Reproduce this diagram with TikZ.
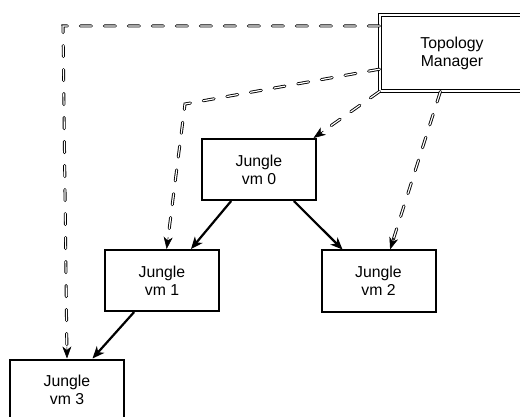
\documentclass[tikz,border=0pt]{standalone}
\usepackage{fontspec}
\setmainfont{Liberation Sans}
\usetikzlibrary{arrows.meta,calc}
\begin{document}
\begin{tikzpicture}[x=1pt,y=-1pt,
  boxtext/.style={align=center, inner sep=0pt, font=\fontsize{15.8}{18}\selectfont},
  vmbox/.style={boxtext, draw, line width=2pt, minimum width=114pt, minimum height=61pt},
  tmbox/.style={boxtext, draw, double, line width=1.1pt, double distance=1.6pt,
                minimum width=144pt, minimum height=76pt},
  solidarrow/.style={draw, line width=2.2pt,
                     -{Stealth[length=12pt, width=10pt, inset=3.5pt]}},
  dline/.style={draw, double, line width=0.9pt, double distance=1.2pt,
                line cap=round, dash pattern=on 11pt off 13pt, shorten >=7pt},
  tipmark/.style={draw, line width=0.6pt,
                  -{Stealth[length=12pt, width=9pt, inset=3.5pt]}}]
  \clip (0,0) rectangle (520,417);
  \useasboundingbox (0,0) rectangle (520,417);

  % machines
  \node[vmbox] (vm0) at (259,169.5) {Jungle\\vm 0};
  \node[vmbox] (vm1) at (162,280.5) {Jungle\\vm 1};
  \node[vmbox] (vm2) at (378.5,281) {Jungle\\vm 2};
  \node[vmbox] (vm3) at (67,390) {Jungle\\vm 3};
  \node[tmbox] (tm) at (452,53) {Topology\\Manager};

  % parent -> child links
  \draw[solidarrow] ($(vm0.south west)!0.26!(vm0.south east)$) --
                    ($(vm1.north west)!0.75!(vm1.north east)$);
  \draw[solidarrow] ($(vm0.south west)!0.80!(vm0.south east)$) --
                    ($(vm2.north west)!0.19!(vm2.north east)$);
  \draw[solidarrow] ($(vm1.south west)!0.26!(vm1.south east)$) --
                    ($(vm3.north west)!0.72!(vm3.north east)$);

  % manager control links
  \coordinate (ca) at (63,26);
  \coordinate (cb) at (185,104);
  \coordinate (e3) at (vm3.north);
  \coordinate (e1) at ($(vm1.north west)!0.54!(vm1.north east)$);
  \coordinate (e0) at ($(vm0.north west)!0.97!(vm0.north east)$);
  \coordinate (e2) at ($(vm2.north west)!0.60!(vm2.north east)$);
  \coordinate (s2) at ($(tm.south west)!0.42!(tm.south east)$);

  \draw[dline] (ca -| tm.west) -- (ca) -- (e3);
  \draw[tipmark] ($(e3)!12pt!(ca)$) -- (e3);

  \draw[dline] ($(tm.north west)!0.71!(tm.south west)$) -- (cb) -- (e1);
  \draw[tipmark] ($(e1)!12pt!(cb)$) -- (e1);

  \draw[dline] (tm.south west) -- (e0);
  \draw[tipmark] ($(e0)!12pt!(tm.south west)$) -- (e0);

  \draw[dline] (s2) -- (e2);
  \draw[tipmark] ($(e2)!12pt!(s2)$) -- (e2);
\end{tikzpicture}
\end{document}
